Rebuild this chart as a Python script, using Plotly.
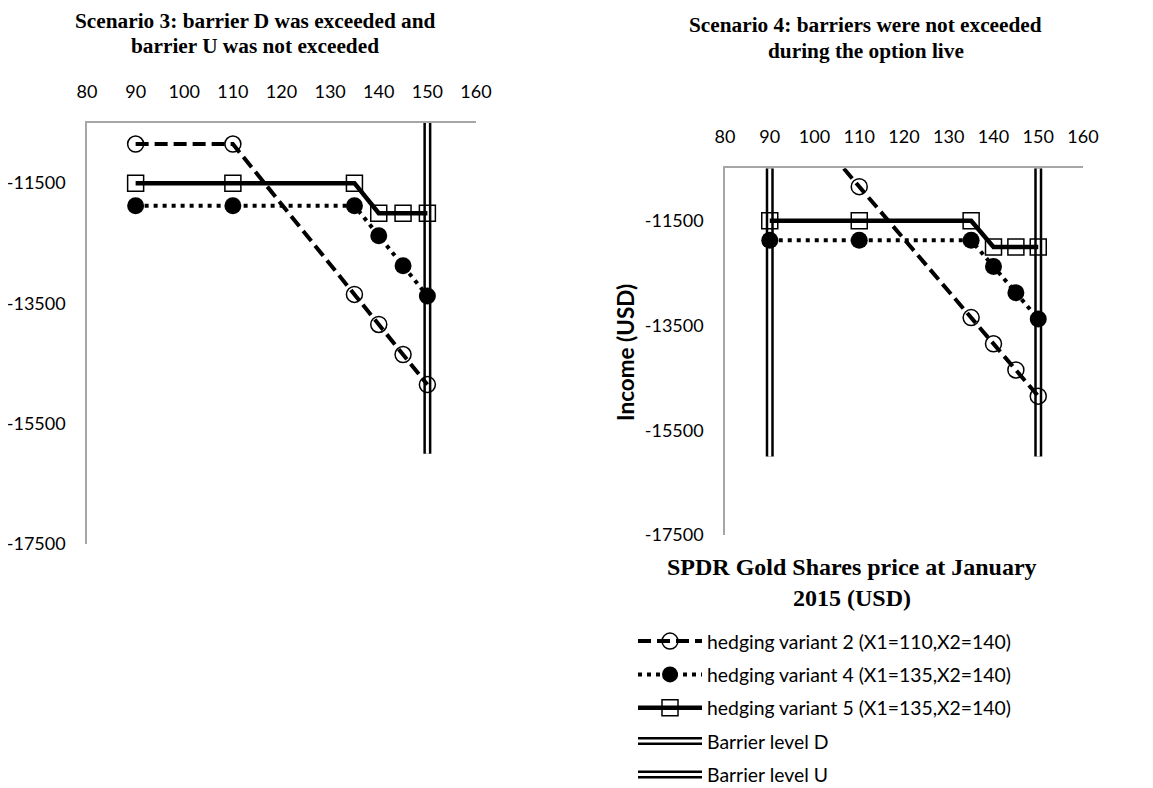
import plotly.graph_objects as go

# ---------------- data ----------------
prices = [90, 110, 135, 140, 145, 150]

s3_variant2 = [-10850, -10850, -13350, -13850, -14350, -14850]
s3_variant4 = [-11875, -11875, -11875, -12375, -12875, -13375]
s3_variant5 = [-11500, -11500, -11500, -12000, -12000, -12000]

s4_variant2 = [-8850, -10850, -13350, -13850, -14350, -14850]
s4_variant4 = [-11875, -11875, -11875, -12375, -12875, -13375]
s4_variant5 = [-11500, -11500, -11500, -12000, -12000, -12000]

barrier_D = 90
barrier_U = 150
barrier_y = [-10500, -16000]

x_ticks = [80, 90, 100, 110, 120, 130, 140, 150, 160]
y_ticks = [-17500, -15500, -13500, -11500]
y_tick_text = ["-17500", "-15500", "-13500", "-11500"]

names = {
    "v2": "hedging variant 2 (X1=110,X2=140)",
    "v4": "hedging variant 4 (X1=135,X2=140)",
    "v5": "hedging variant 5 (X1=135,X2=140)",
    "D": "Barrier level D",
    "U": "Barrier level U",
}

# page is 1153x788; the html body places the figure 8px from the top-left
OFF = 8
W, H = 1153 - OFF, 788 - OFF
SANS = "Lato, Carlito, Calibri, sans-serif"
SERIF = "Liberation Serif, Times New Roman, serif"


def fx(p):
    return (p - OFF) / W


def fy(p):
    return 1 - (p - OFF) / H


fig = go.Figure()


def barrier(xv, xa, ya, key, show):
    fig.add_trace(go.Scatter(
        x=[xv, xv], y=barrier_y, mode="lines", xaxis=xa, yaxis=ya,
        line=dict(color="black", width=8), name=names[key],
        legendgroup=key, showlegend=show, legendrank={"D": 4, "U": 5}[key],
        hoverinfo="skip"))
    fig.add_trace(go.Scatter(
        x=[xv, xv], y=barrier_y, mode="lines", xaxis=xa, yaxis=ya,
        line=dict(color="white", width=3), name="", legend="legend2",
        showlegend=show, legendrank={"D": 4, "U": 5}[key],
        legendgroup=key + "w", hoverinfo="skip"))


def series(v2, v4, v5, xa, ya, show):
    fig.add_trace(go.Scatter(
        x=prices, y=v4, mode="lines+markers", xaxis=xa, yaxis=ya,
        name=names["v4"], legendgroup="v4", showlegend=show, legendrank=2,
        line=dict(color="black", width=4, dash="4px,5px"),
        marker=dict(symbol="circle", size=17, color="black")))
    fig.add_trace(go.Scatter(
        x=prices, y=v5, mode="lines+markers", xaxis=xa, yaxis=ya,
        name=names["v5"], legendgroup="v5", showlegend=show, legendrank=3,
        line=dict(color="black", width=4.5),
        marker=dict(symbol="square-open", size=16, color="black",
                    line=dict(width=1.5))))
    fig.add_trace(go.Scatter(
        x=prices, y=v2, mode="lines+markers", xaxis=xa, yaxis=ya,
        name=names["v2"], legendgroup="v2", showlegend=show, legendrank=1,
        line=dict(color="black", width=4, dash="13px,6px"),
        marker=dict(symbol="circle-open", size=16, color="black",
                    line=dict(width=1.5))))


# left panel: scenario 3 (only barrier U)
barrier(barrier_U, "x", "y", "U", False)
series(s3_variant2, s3_variant4, s3_variant5, "x", "y", False)

# right panel: scenario 4
barrier(barrier_D, "x2", "y2", "D", True)
barrier(barrier_U, "x2", "y2", "U", True)
series(s4_variant2, s4_variant4, s4_variant5, "x2", "y2", True)

axis_line = "#a6a6a6"
xcommon = dict(range=[80, 160], tickvals=x_ticks, side="top", showline=True,
               linecolor=axis_line, linewidth=1.5, ticks="outside", ticklen=16,
               tickcolor="rgba(0,0,0,0)", showgrid=False, zeroline=False,
               automargin=False,
               tickfont=dict(family=SANS, size=18, color="black"), fixedrange=True)
ycommon = dict(range=[-17500, -10500], tickvals=y_ticks, ticktext=y_tick_text,
               showline=True, linecolor=axis_line, linewidth=1.5, ticks="outside",
               ticklen=16, tickcolor="rgba(0,0,0,0)", showgrid=False,
               zeroline=False, automargin=False,
               tickfont=dict(family=SANS, size=18, color="black"),
               fixedrange=True)

GAP = 5.1
ROW = 19.4 * 1.3 + 3 + GAP
leg_top = 622
leg_common = dict(x=fx(633), xanchor="left", yanchor="top",
                  font=dict(family=SANS, size=19.4, color="black"),
                  itemwidth=64, traceorder="grouped", tracegroupgap=GAP,
                  bgcolor="rgba(0,0,0,0)", itemclick=False, itemdoubleclick=False)

fig.update_layout(
    width=W, height=H,
    margin=dict(l=0, r=0, t=0, b=0, autoexpand=False),
    paper_bgcolor="white", plot_bgcolor="white",
    xaxis=dict(xcommon, domain=[fx(87), fx(476)], anchor="y"),
    yaxis=dict(ycommon, domain=[fy(544), fy(123)], anchor="x"),
    xaxis2=dict(xcommon, domain=[fx(725), fx(1083)], anchor="y2"),
    yaxis2=dict(ycommon, domain=[fy(535), fy(168.3)], anchor="x2"),
    legend=dict(leg_common, y=fy(leg_top)),
    legend2=dict(leg_common, y=fy(leg_top + 3 * ROW)),
    showlegend=True,
)

ann = []


def text(x, y, s, size, family, bold=True, angle=0):
    ann.append(dict(x=fx(x), y=fy(y), xref="paper", yref="paper",
                    text=("<b>%s</b>" % s) if bold else s, showarrow=False,
                    xanchor="center", yanchor="middle", textangle=angle,
                    font=dict(family=family, size=size, color="black")))


text(255, 21, "Scenario 3: barrier D was exceeded and", 21.3, SERIF)
text(255, 46, "barrier U was not exceeded", 21.3, SERIF)
text(866, 25, "Scenario 4: barriers were not exceeded", 21.3, SERIF)
text(866, 51, "during the option live", 21.3, SERIF)
text(852, 567, "SPDR Gold Shares price at January", 24, SERIF)
text(852, 598, "2015 (USD)", 24, SERIF)
text(625, 352, "Income (USD)", 22.5, SANS, angle=-90)

fig.update_layout(annotations=ann)

fig.write_html("out.html")
